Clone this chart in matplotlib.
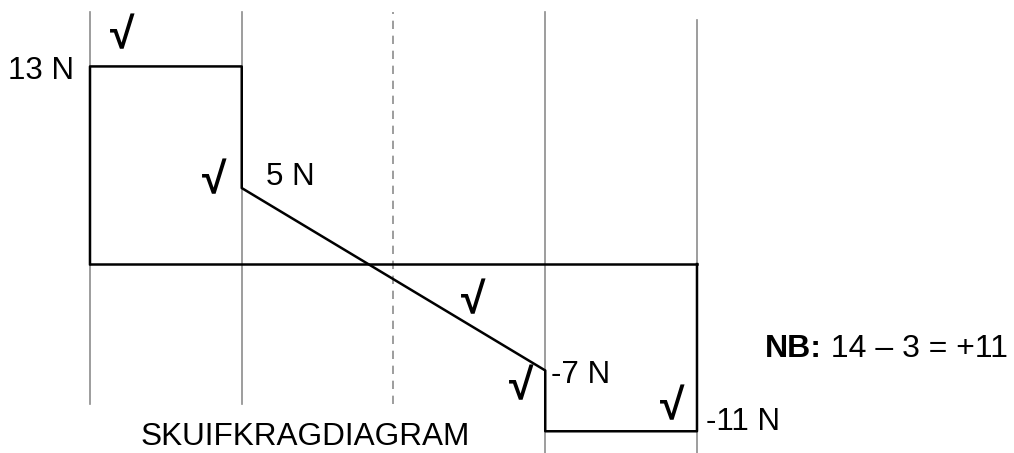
import matplotlib.pyplot as plt

plt.rcParams['font.family'] = ['Liberation Sans', 'DejaVu Sans']

# support positions along the beam (span units) and shear force values (N)
positions = [0, 1, 2, 3, 4]
shear_x = [0, 0, 1, 1, 3, 3, 4, 4]
shear_v = [0, 13, 13, 5, -7, -11, -11, 0]

# value labels: (text, x, y baseline, alignment)
value_labels = [
    ('13 N', -0.105, 12.17, 'right'),
    ('5 N', 1.16, 5.2, 'left'),
    ('-7 N', 3.04, -7.83, 'left'),
    ('-11 N', 4.06, -10.92, 'left'),
]
# check mark centre positions
ticks_xy = [(0.211, 14.97), (0.818, 5.39), (2.524, -2.5), (2.84, -8.16), (3.835, -9.47)]

fig = plt.figure(figsize=(10.14, 4.53), dpi=100)
ax = fig.add_axes([0, 0, 1, 1])
ax.set_xlim(-0.593, 6.089)
ax.set_ylim(-12.43, 17.37)
ax.axis('off')

# vertical guide lines
tops = [16.58, 16.58, 16.58, 16.58, 16.05]
bottoms = [-9.21, -9.21, -9.21, -12.43, -12.43]
for i, x in enumerate(positions):
    if i == 2:
        ax.plot([x, x], [bottoms[i], tops[i]], color='#8c8c8c', lw=1.2,
                ls=(0, (5, 4)), zorder=1)
    else:
        ax.plot([x, x], [bottoms[i], tops[i]], color='#8c8c8c', lw=1.2, zorder=1)

# zero line and shear diagram
ax.plot([positions[0], positions[-1]], [0, 0], color='black', lw=1.8, zorder=2)
ax.plot(shear_x, shear_v, color='black', lw=1.8, zorder=3)

for txt, x, y, ha in value_labels:
    ax.text(x, y, txt, fontsize=22.5, ha=ha, va='baseline')

for x, y in ticks_xy:
    ax.text(x, y, '√', fontsize=32, fontweight='bold', family='Liberation Sans',
            ha='center', va='center')

ax.text(0.33, -11.9, 'SKUIFKRAGDIAGRAM', fontsize=22.7, ha='left', va='baseline')
nb = ax.text(4.448, -6.12, 'NB:', fontsize=23, fontweight='bold', ha='left', va='baseline')
ax.annotate(' 14 – 3 = +11', xycoords=nb, xy=(1, 0), fontsize=23,
            ha='left', va='bottom')

fig.savefig('out.png', dpi=100)
